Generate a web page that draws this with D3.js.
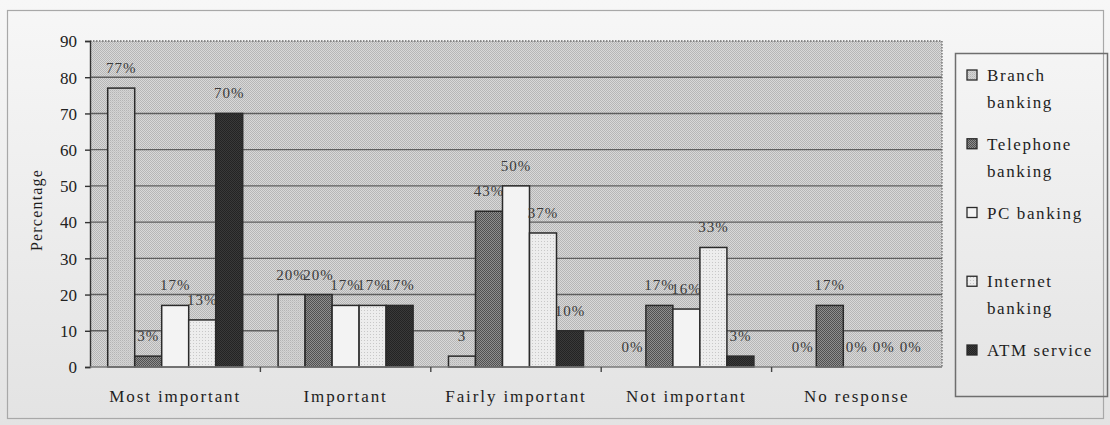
<!DOCTYPE html>
<html><head><meta charset="utf-8">
<script src="https://cdn.jsdelivr.net/npm/d3@7"></script>
<style>
html,body{margin:0;padding:0;background:#ececec;}
svg{display:block;}
</style></head><body>
<svg id="chart" width="1110" height="425"></svg>
<script>
// Rating of banking channels by importance (percent of respondents)
const categories = ["Most important", "Important", "Fairly important", "Not important", "No response"];
const seriesNames = ["Branch banking", "Telephone banking", "PC banking", "Internet banking", "ATM service"];

const branchValues    = [77, 20, 3, 0, 0];
const telephoneValues = [3, 20, 43, 17, 17];
const pcValues        = [17, 17, 50, 16, 0];
const internetValues  = [13, 17, 37, 33, 0];
const atmValues       = [70, 17, 10, 3, 0];

const branchLabels    = ["77%", "20%", "3", "0%", "0%"];
const telephoneLabels = ["3%", "20%", "43%", "17%", "17%"];
const pcLabels        = ["17%", "17%", "50%", "16%", "0%"];
const internetLabels  = ["13%", "17%", "37%", "33%", "0%"];
const atmLabels       = ["70%", "17%", "10%", "3%", "0%"];

const yTicks = [0, 10, 20, 30, 40, 50, 60, 70, 80, 90];
const legendLines = [["Branch", "banking"], ["Telephone", "banking"], ["PC banking"], ["Internet", "banking"], ["ATM service"]];

const seriesValues = [branchValues, telephoneValues, pcValues, internetValues, atmValues];
const seriesLabels = [branchLabels, telephoneLabels, pcLabels, internetLabels, atmLabels];
const patternIds = ["pBranch", "pTel", "pPc", "pNet", "pAtm"];

const FONT = "'Liberation Serif', 'Times New Roman', Times, serif";
const svg = d3.select("#chart");
const W = 1110, H = 425;
const plot = {left: 90, right: 942, top: 41, bottom: 367};

// ---- patterns & gradients ----
const defs = svg.append("defs");
const grad = defs.append("linearGradient").attr("id", "pageGrad")
  .attr("x1", 0).attr("y1", 0).attr("x2", 0).attr("y2", 1);
grad.append("stop").attr("offset", "0%").attr("stop-color", "#f7f7f7");
grad.append("stop").attr("offset", "100%").attr("stop-color", "#e3e3e3");

function checker(id, size, base, cells) {
  const p = defs.append("pattern").attr("id", id).attr("patternUnits", "userSpaceOnUse")
    .attr("width", size).attr("height", size);
  p.append("rect").attr("width", size).attr("height", size).attr("fill", base);
  cells.forEach(c => p.append("rect").attr("x", c[0]).attr("y", c[1])
    .attr("width", 1).attr("height", 1).attr("fill", c[2]));
}
checker("pBg", 2, "#d8d8d8", [[0, 0, "#b6b6b6"], [1, 1, "#b6b6b6"]]);
checker("pBranch", 2, "#d4d4d4", [[0, 0, "#b4b4b4"], [1, 1, "#c4c4c4"]]);
checker("pTel", 2, "#8e8e8e", [[0, 0, "#505050"], [1, 1, "#505050"]]);
checker("pPc", 2, "#f3f3f3", []);
checker("pNet", 3, "#ededed", [[1, 1, "#c8c8c8"]]);
checker("pAtm", 2, "#3a3a3a", [[0, 0, "#242424"], [1, 1, "#242424"]]);

// ---- page ----
svg.append("rect").attr("width", W).attr("height", H).attr("fill", "url(#pageGrad)");
svg.append("rect").attr("x", 7.5).attr("y", 10.5).attr("width", 1096).attr("height", 408)
  .attr("fill", "none").attr("stroke", "#a8a8a8").attr("stroke-width", 1.2);

// ---- scales ----
const x0 = d3.scaleBand().domain(categories).range([plot.left, plot.right]);
const x1 = d3.scaleBand().domain(seriesNames).range([0, x0.bandwidth()]).paddingOuter(0.655);
const y = d3.scaleLinear().domain([0, 90]).range([plot.bottom, plot.top]);

// ---- plot area ----
svg.append("rect").attr("x", plot.left).attr("y", plot.top)
  .attr("width", plot.right - plot.left).attr("height", plot.bottom - plot.top)
  .attr("fill", "url(#pBg)");

svg.append("g").selectAll("line").data(yTicks.filter(t => t > 0 && t < 90)).join("line")
  .attr("x1", plot.left).attr("x2", plot.right)
  .attr("y1", d => y(d)).attr("y2", d => y(d))
  .attr("stroke", "#5e5e5e").attr("stroke-width", 1.4);

// bars and their labels, series by series
seriesNames.forEach((s, si) => {
  const g = svg.append("g");
  const vals = seriesValues[si];
  g.selectAll("rect").data(categories).join("rect")
    .attr("x", (c) => x0(c) + x1(s))
    .attr("y", (c, i) => y(vals[i]))
    .attr("width", x1.bandwidth())
    .attr("height", (c, i) => y(0) - y(vals[i]))
    .attr("fill", `url(#${patternIds[si]})`)
    .attr("stroke", "#2a2a2a").attr("stroke-width", 1.5);
  g.selectAll("text").data(categories).join("text")
    .attr("x", (c) => x0(c) + x1(s) + x1.bandwidth() / 2)
    .attr("y", (c, i) => y(vals[i]) - 15)
    .attr("text-anchor", "middle")
    .style("font-family", FONT)
    .style("font-size", "15px").style("letter-spacing", "1px")
    .style("fill", "#3a3a3a")
    .text((c, i) => seriesLabels[si][i]);
});

// plot frame: dotted top/right, axis lines left/bottom
svg.append("line").attr("x1", plot.left).attr("x2", plot.right).attr("y1", plot.top).attr("y2", plot.top)
  .attr("stroke", "#6a6a6a").attr("stroke-width", 1.3).attr("stroke-dasharray", "1.5,1.5");
svg.append("line").attr("x1", plot.right).attr("x2", plot.right).attr("y1", plot.top).attr("y2", plot.bottom)
  .attr("stroke", "#6a6a6a").attr("stroke-width", 1.3).attr("stroke-dasharray", "1.5,1.5");

const yAxis = svg.append("g").attr("transform", `translate(${plot.left},0)`)
  .call(d3.axisLeft(y).tickValues(yTicks).tickSize(5).tickPadding(8).tickFormat(d3.format("d")));
yAxis.select(".domain").attr("stroke", "#333").attr("stroke-width", 1.4);
yAxis.selectAll(".tick line").attr("stroke", "#333").attr("stroke-width", 1.4);
yAxis.selectAll(".tick text").style("font-family", FONT)
  .style("font-size", "17px").style("fill", "#222").attr("dy", "0.34em");

// category axis: baseline, boundary ticks, labels
const xg = svg.append("g");
xg.append("line").attr("x1", plot.left).attr("x2", plot.right).attr("y1", plot.bottom).attr("y2", plot.bottom)
  .attr("stroke", "#7a7a7a").attr("stroke-width", 1.6);
xg.selectAll("line.tk").data(categories.slice(1)).join("line").attr("class", "tk")
  .attr("x1", c => x0(c)).attr("x2", c => x0(c))
  .attr("y1", plot.bottom).attr("y2", plot.bottom + 5)
  .attr("stroke", "#444").attr("stroke-width", 1.4);
xg.selectAll("text").data(categories).join("text")
  .attr("x", c => x0(c) + x0.bandwidth() / 2)
  .attr("y", 402)
  .attr("text-anchor", "middle")
  .style("font-family", FONT).style("fill", "#1e1e1e")
  .style("font-size", "17px").style("letter-spacing", "1.9px")
  .text(c => c);

// y axis title
svg.append("text").attr("transform", "translate(42,210) rotate(-90)")
  .attr("text-anchor", "middle")
  .style("font-family", FONT).style("fill", "#1e1e1e")
  .style("font-size", "16px").style("letter-spacing", "1.2px")
  .text("Percentage");

// ---- legend ----
const lg = svg.append("g");
lg.append("rect").attr("x", 955.5).attr("y", 53.5).attr("width", 152).attr("height", 343)
  .attr("fill", "none").attr("stroke", "#6e6e6e").attr("stroke-width", 1.5);
const ly = d3.scalePoint().domain(seriesNames).range([75, 350]);
seriesNames.forEach((s, si) => {
  lg.append("rect").attr("x", 967).attr("y", ly(s) - 5).attr("width", 10).attr("height", 10)
    .attr("fill", `url(#${patternIds[si]})`).attr("stroke", "#2a2a2a").attr("stroke-width", 1.3);
  const t = lg.append("text").attr("x", 987).attr("y", ly(s) + 6)
    .style("font-family", FONT).style("fill", "#1e1e1e")
    .style("font-size", "17px").style("letter-spacing", "1.6px");
  legendLines[si].forEach((line, li) => {
    t.append("tspan").attr("x", 987).attr("dy", li === 0 ? 0 : 27).text(line);
  });
});
</script>
</body></html>
